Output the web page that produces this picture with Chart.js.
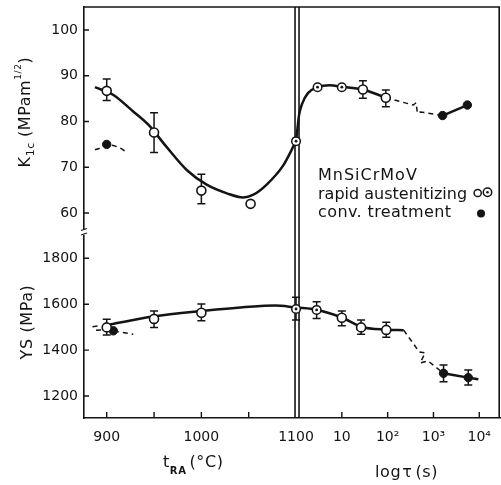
<!DOCTYPE html>
<html><head><meta charset="utf-8">
<script src="https://cdn.jsdelivr.net/npm/chart.js@4.4.1/dist/chart.umd.min.js"></script>
<style>html,body{margin:0;padding:0;background:#fff;}#wrap{width:501px;height:485px;}</style>
</head><body><div id="wrap"><canvas id="c" width="501" height="485"></canvas></div>
<script>
// ---------- data ----------
const DECADE = 48.4; // x-units per decade of tau (right panel starts at tRA = 1100, tau = 1 s)

// tick labels
const tempTicks = [900, 950, 1000, 1050, 1100];
const tempTickLabels = ['900', '', '1000', '', '1100'];
const logTauTicks = [1, 2, 3, 4];
const logTauTickLabels = ['10', '10²', '10³', '10⁴'];
const kTicks = [60, 70, 80, 90, 100];
const ysTicks = [1200, 1400, 1600, 1800];

// K1c vs tRA
const kOpenTemp = [900, 950, 1000, 1052];
const kOpenVal  = [86.7, 77.6, 64.9, 62.0];
const kOpenLo   = [84.6, 73.2, 62.0, null];
const kOpenHi   = [89.3, 81.9, 68.5, null];
const kDotTemp  = [1100];
const kDotVal   = [75.7];
const kConvTemp = [900];
const kConvVal  = [75.0];
// K1c vs log tau
const kOpenLogTau = [1.46, 1.96];
const kOpenTauVal = [87.0, 85.2];
const kOpenTauLo  = [85.1, 83.2];
const kOpenTauHi  = [88.9, 86.9];
const kDotLogTau  = [0.47, 1.0];
const kDotTauVal  = [87.5, 87.5];
const kConvLogTau = [3.2, 3.74];
const kConvTauVal = [81.3, 83.6];
// K1c curves
const kCurveTemp    = [887.6, 907, 928, 944, 963, 984.5, 1005.6, 1027, 1044, 1055, 1069, 1086.5, 1100];
const kCurveTempVal = [87.5, 85.8, 82.2, 79.3, 74.5, 69.4, 66.2, 64.3, 63.4, 64.0, 66.2, 70.4, 75.7];
const kCurveLogTau  = [0, 0.033, 0.066, 0.13, 0.26, 0.47, 0.74, 1.0, 1.46, 1.96];
const kCurveTauVal  = [75.7, 78.6, 81.4, 83.8, 86.2, 87.5, 87.9, 87.6, 87.0, 85.2];
const kDashLogTau   = [1.96, 2.56, 2.62, 2.65, 2.71, 3.2];
const kDashTauVal   = [85.2, 83.6, 84.1, 81.8, 82.1, 81.3];
const kConvDashTemp = [887.6, 893, 900, 912, 922.5];
const kConvDashVal  = [73.8, 74.2, 74.9, 74.4, 73.1];

// YS vs tRA
const ysOpenTemp = [900, 950, 1000];
const ysOpenVal  = [1499, 1536, 1563];
const ysOpenLo   = [1466, 1499, 1528];
const ysOpenHi   = [1534, 1570, 1601];
const ysDotTemp  = [1100];
const ysDotVal   = [1579];
const ysDotLo    = [1531];
const ysDotHi    = [1630];
const ysConvTemp = [907];
const ysConvVal  = [1484];
// YS vs log tau
const ysOpenLogTau = [1.0, 1.42, 1.97];
const ysOpenTauVal = [1541, 1499, 1488];
const ysOpenTauLo  = [1506, 1469, 1456];
const ysOpenTauHi  = [1570, 1531, 1521];
const ysDotLogTau  = [0.45];
const ysDotTauVal  = [1575];
const ysDotTauLo   = [1538];
const ysDotTauHi   = [1611];
const ysConvLogTau = [3.22, 3.76];
const ysConvTauVal = [1299, 1280];
const ysConvTauLo  = [1262, 1248];
const ysConvTauHi  = [1335, 1313];
// YS curves
const ysCurveTemp      = [903.5, 949, 1000, 1051, 1078, 1100];
const ysCurveTempVal   = [1512, 1546, 1570, 1589, 1594, 1586];
const ysCurveLogTau    = [0, 0.45, 1.0, 1.42, 1.97, 2.35];
const ysCurveTauVal    = [1586, 1576, 1542, 1502, 1489, 1487];
const ysDashLogTau     = [2.35, 2.69, 2.82, 2.71, 2.88, 3.22];
const ysDashTauVal     = [1487, 1392, 1388, 1344, 1353, 1299];
const ysConvCurveLogTau= [3.22, 3.76, 3.98];
const ysConvCurveVal   = [1299, 1280, 1273];
const ysRapidDashTemp  = [885, 893];
const ysRapidDashVal   = [1502, 1506];
const ysConvDashTemp   = [888.7, 893.6, 907, 912, 928];
const ysConvDashVal    = [1486, 1488, 1484, 1480, 1469];

// ---------- helpers ----------
const INK = '#141414';
const FONT = '"DejaVu Sans", sans-serif';
const T = v => v;
const L = v => 1100 + v * DECADE;
const pts = (xs, ys, f) => xs.map((x, i) => ({x: f(x), y: ys[i]}));
const xTickVals = tempTicks.concat(logTauTicks.map(L));
const xTickLabels = tempTickLabels.concat(logTauTickLabels);

const openPt  = {showLine:false, pointStyle:'circle', pointRadius:4.5, pointBackgroundColor:'#fff', pointBorderColor:INK, pointBorderWidth:1.6, order:1};
const ringPt  = {showLine:false, pointStyle:'circle', pointRadius:4.3, pointBackgroundColor:'#fff', pointBorderColor:INK, pointBorderWidth:1.5, order:1};
const centPt  = {showLine:false, pointStyle:'circle', pointRadius:1.4, pointBackgroundColor:INK, pointBorderColor:INK, pointBorderWidth:0, order:0};
const fillPt  = {showLine:false, pointStyle:'circle', pointRadius:4.2, pointBackgroundColor:INK, pointBorderColor:INK, pointBorderWidth:1, order:1};
const solid   = {showLine:true, pointRadius:0, borderColor:INK, borderWidth:2.5, cubicInterpolationMode:'monotone', fill:false, order:5};
const straight= {showLine:true, pointRadius:0, borderColor:INK, borderWidth:2.5, tension:0, fill:false, order:5};
const dashed  = {showLine:true, pointRadius:0, borderColor:INK, borderWidth:1.5, borderDash:[5,4], tension:0, fill:false, order:5};

const datasets = [
  // K1c
  Object.assign({label:'K rapid', yAxisID:'yK', data: pts(kOpenTemp,kOpenVal,T).concat(pts(kOpenLogTau,kOpenTauVal,L)),
    errLo: kOpenLo.concat(kOpenTauLo), errHi: kOpenHi.concat(kOpenTauHi)}, openPt),
  Object.assign({label:'K rapid ring', yAxisID:'yK', data: pts(kDotTemp,kDotVal,T).concat(pts(kDotLogTau,kDotTauVal,L))}, ringPt),
  Object.assign({label:'K rapid ring c', yAxisID:'yK', data: pts(kDotTemp,kDotVal,T).concat(pts(kDotLogTau,kDotTauVal,L))}, centPt),
  Object.assign({label:'K conv', yAxisID:'yK', data: pts(kConvTemp,kConvVal,T).concat(pts(kConvLogTau,kConvTauVal,L))}, fillPt),
  Object.assign({label:'K curve tRA', yAxisID:'yK', data: pts(kCurveTemp,kCurveTempVal,T)}, solid),
  Object.assign({label:'K curve tau', yAxisID:'yK', data: pts(kCurveLogTau,kCurveTauVal,L)}, solid),
  Object.assign({label:'K dash', yAxisID:'yK', data: pts(kDashLogTau,kDashTauVal,L)}, dashed),
  Object.assign({label:'K conv line', yAxisID:'yK', data: pts(kConvLogTau,kConvTauVal,L)}, straight),
  Object.assign({label:'K conv dash', yAxisID:'yK', data: pts(kConvDashTemp,kConvDashVal,T)}, dashed, {cubicInterpolationMode:'monotone'}),
  // YS
  Object.assign({label:'YS rapid', yAxisID:'yYS', data: pts(ysOpenTemp,ysOpenVal,T).concat(pts(ysOpenLogTau,ysOpenTauVal,L)),
    errLo: ysOpenLo.concat(ysOpenTauLo), errHi: ysOpenHi.concat(ysOpenTauHi)}, openPt),
  Object.assign({label:'YS rapid ring', yAxisID:'yYS', data: pts(ysDotTemp,ysDotVal,T).concat(pts(ysDotLogTau,ysDotTauVal,L)),
    errLo: ysDotLo.concat(ysDotTauLo), errHi: ysDotHi.concat(ysDotTauHi)}, ringPt),
  Object.assign({label:'YS rapid ring c', yAxisID:'yYS', data: pts(ysDotTemp,ysDotVal,T).concat(pts(ysDotLogTau,ysDotTauVal,L))}, centPt),
  Object.assign({label:'YS conv', yAxisID:'yYS', data: pts(ysConvTemp,ysConvVal,T).concat(pts(ysConvLogTau,ysConvTauVal,L)),
    errLo: [null].concat(ysConvTauLo), errHi: [null].concat(ysConvTauHi)}, fillPt),
  Object.assign({label:'YS curve tRA', yAxisID:'yYS', data: pts(ysCurveTemp,ysCurveTempVal,T)}, solid),
  Object.assign({label:'YS curve tau', yAxisID:'yYS', data: pts(ysCurveLogTau,ysCurveTauVal,L)}, solid),
  Object.assign({label:'YS dash', yAxisID:'yYS', data: pts(ysDashLogTau,ysDashTauVal,L)}, dashed),
  Object.assign({label:'YS conv curve', yAxisID:'yYS', data: pts(ysConvCurveLogTau,ysConvCurveVal,L)}, solid),
  Object.assign({label:'YS rapid dash', yAxisID:'yYS', data: pts(ysRapidDashTemp,ysRapidDashVal,T)}, dashed),
  Object.assign({label:'YS conv dash', yAxisID:'yYS', data: pts(ysConvDashTemp,ysConvDashVal,T)}, dashed),
];

// ---------- plugins ----------
const frame = {
  id:'frame',
  beforeDatasetsDraw(chart) {
    const {ctx, chartArea:a, scales} = chart;
    const xs = scales.x;
    ctx.save();
    ctx.strokeStyle = INK; ctx.lineWidth = 1.6;
    // top and right border
    ctx.beginPath(); ctx.moveTo(a.left, a.top); ctx.lineTo(a.right - 0.8, a.top); ctx.lineTo(a.right - 0.8, a.bottom); ctx.stroke();
    // double divider at 1100 / tau = 1 s
    const pd = xs.getPixelForValue(1100);
    ctx.beginPath(); ctx.moveTo(pd - 1, a.top); ctx.lineTo(pd - 1, a.bottom);
    ctx.moveTo(pd + 3, a.top); ctx.lineTo(pd + 3, a.bottom); ctx.stroke();
    // inward tick marks
    ctx.lineWidth = 1.4;
    ctx.beginPath();
    ['yK','yYS'].forEach(id => {
      const s = scales[id];
      s.ticks.forEach(t => { const py = s.getPixelForValue(t.value); ctx.moveTo(s.right, py); ctx.lineTo(s.right + 5, py); });
    });
    xs.ticks.forEach(t => {
      if (t.value === 1100) return;
      const px = xs.getPixelForValue(t.value); ctx.moveTo(px, xs.top); ctx.lineTo(px, xs.top - 6);
    });
    ctx.stroke();
    // axis break on the left axis
    const yb = scales.yK.bottom;
    ctx.fillStyle = '#fff'; ctx.fillRect(a.left - 3, yb - 3, 6, 6);
    ctx.lineWidth = 1.2;
    ctx.beginPath();
    ctx.moveTo(a.left - 3, yb - 1.5); ctx.lineTo(a.left + 3, yb - 3.5);
    ctx.moveTo(a.left - 3, yb + 3); ctx.lineTo(a.left + 3, yb + 1);
    ctx.stroke();
    ctx.restore();
  }
};

const errorBars = {
  id:'errorBars',
  beforeDatasetsDraw(chart) {
    const ctx = chart.ctx; const xs = chart.scales.x;
    ctx.save(); ctx.strokeStyle = INK; ctx.lineWidth = 1.5;
    chart.data.datasets.forEach(ds => {
      if (!ds.errLo) return;
      const ys = chart.scales[ds.yAxisID];
      ds.data.forEach((p, i) => {
        const lo = ds.errLo[i], hi = ds.errHi[i];
        if (lo == null || hi == null) return;
        const px = xs.getPixelForValue(p.x), y1 = ys.getPixelForValue(lo), y2 = ys.getPixelForValue(hi);
        ctx.beginPath();
        ctx.moveTo(px, y1); ctx.lineTo(px, y2);
        ctx.moveTo(px - 4, y1); ctx.lineTo(px + 4, y1);
        ctx.moveTo(px - 4, y2); ctx.lineTo(px + 4, y2);
        ctx.stroke();
      });
    });
    ctx.restore();
  }
};

function drawParts(ctx, parts, x, y) {
  let cx = x;
  parts.forEach(p => {
    ctx.font = (p.bold ? 'bold ' : '') + p.size + 'px ' + FONT;
    ctx.fillText(p.t, cx, y + (p.dy || 0));
    cx += ctx.measureText(p.t).width + (p.gap || 0);
  });
}
function partsWidth(ctx, parts) {
  let w = 0;
  parts.forEach(p => { ctx.font = (p.bold ? 'bold ' : '') + p.size + 'px ' + FONT; w += ctx.measureText(p.t).width + (p.gap || 0); });
  return w;
}

const texts = {
  id:'texts',
  afterDraw(chart) {
    const ctx = chart.ctx;
    ctx.save();
    ctx.fillStyle = INK; ctx.textBaseline = 'alphabetic'; ctx.textAlign = 'left';
    ctx.letterSpacing = '0.6px';
    // y titles (rotated)
    const kParts = [{t:'K', size:16}, {t:'1c', size:11, dy:4, gap:5}, {t:'(MPam', size:16}, {t:'1/2', size:9, dy:-9}, {t:')', size:16}];
    ctx.save(); ctx.translate(30, 112); ctx.rotate(-Math.PI / 2);
    drawParts(ctx, kParts, -partsWidth(ctx, kParts) / 2, 0); ctx.restore();
    const ysParts = [{t:'YS (MPa)', size:16}];
    ctx.save(); ctx.translate(32, 322); ctx.rotate(-Math.PI / 2);
    drawParts(ctx, ysParts, -partsWidth(ctx, ysParts) / 2, 0); ctx.restore();
    // x titles
    drawParts(ctx, [{t:'t', size:16}, {t:'RA', size:10, bold:true, dy:7, gap:3}, {t:'(°C)', size:16}], 163, 467);
    drawParts(ctx, [{t:'log', size:16, gap:1}, {t:'τ', size:16, gap:3}, {t:'(s)', size:16}], 375, 477);
    // legend
    ctx.letterSpacing = '1px';
    ctx.font = '16px ' + FONT; ctx.fillText('MnSiCrMoV', 318, 180);
    ctx.letterSpacing = '0px';
    ctx.fillText('rapid austenitizing', 318, 199);
    ctx.letterSpacing = '0.4px';
    ctx.fillText('conv. treatment', 318, 216.5);
    // legend markers
    ctx.lineWidth = 1.5; ctx.strokeStyle = INK;
    ctx.beginPath(); ctx.arc(477.7, 193, 3.6, 0, Math.PI * 2); ctx.stroke();
    ctx.beginPath(); ctx.arc(487.5, 192.3, 4.2, 0, Math.PI * 2); ctx.stroke();
    ctx.beginPath(); ctx.arc(487.5, 192.3, 1.3, 0, Math.PI * 2); ctx.fill();
    ctx.beginPath(); ctx.arc(481, 213.5, 4, 0, Math.PI * 2); ctx.fill();
    ctx.restore();
  }
};

// ---------- chart ----------
const tickFont = {family: FONT, size: 14};
function yScale(stackWeight, min, max, ticks) {
  return {
    type:'linear', position:'left', stack:'v', stackWeight, min, max,
    grid:{display:false, drawTicks:false},
    border:{display:true, color:INK, width:1.6},
    afterFit(s){ s.width = 84; s.paddingTop = 0; s.paddingBottom = 0; s.paddingLeft = 0; s.paddingRight = 0; },
    afterBuildTicks(s){ s.ticks = ticks.map(v => ({value:v})); },
    ticks:{color:INK, font:tickFont, padding:6, autoSkip:false, callback:(v) => String(v)}
  };
}

new Chart(document.getElementById('c'), {
  type:'scatter',
  data:{datasets},
  options:{
    responsive:false, animation:false, devicePixelRatio:1,
    layout:{autoPadding:false, padding:{top:7, right:1, left:0, bottom:0}},
    plugins:{legend:{display:false}, tooltip:{enabled:false}},
    scales:{
      x:{
        type:'linear', position:'bottom', min:876, max:1315.5,
        grid:{display:false, drawTicks:false},
        border:{display:true, color:INK, width:1.6},
        afterFit(s){ s.height = 67; s.paddingLeft = 0; s.paddingRight = 0; s.paddingTop = 0; s.paddingBottom = 0; },
        afterBuildTicks(s){ s.ticks = xTickVals.map(v => ({value:v})); },
        ticks:{color:INK, font:tickFont, padding:11, autoSkip:false, maxRotation:0, callback:(v, i) => xTickLabels[i]}
      },
      yYS: yScale(186, 1104.1, 1914.6, ysTicks),
      yK: yScale(225, 55.85, 105.03, kTicks)
    }
  },
  plugins:[frame, errorBars, texts]
});
</script></body></html>
